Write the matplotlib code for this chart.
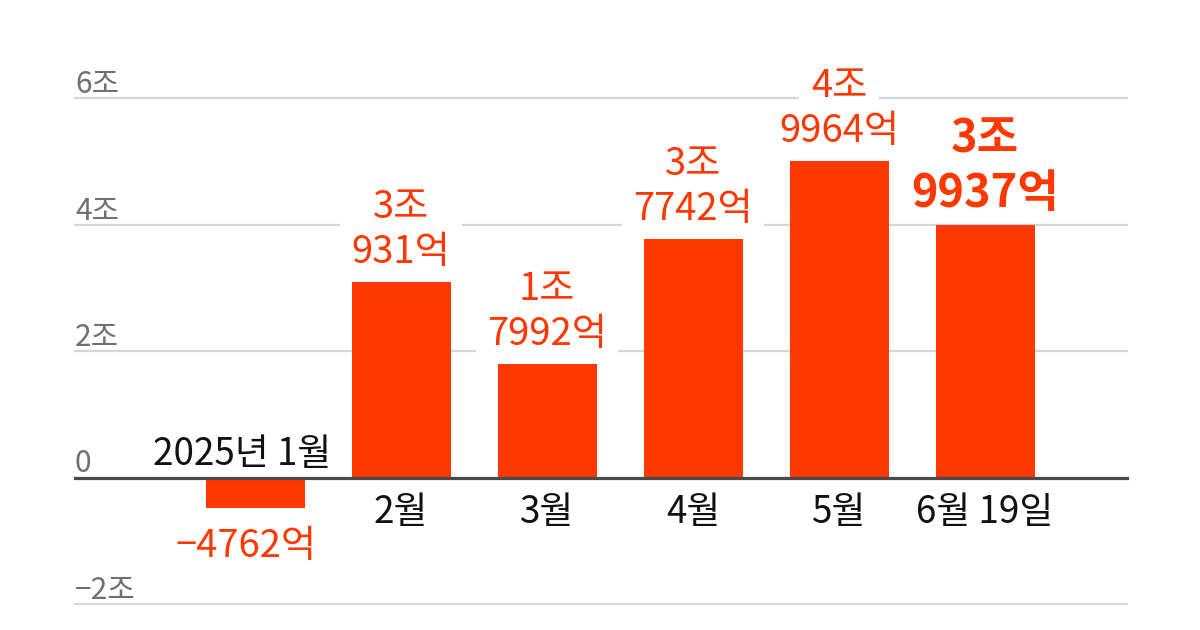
import matplotlib
matplotlib.use("Agg")
import matplotlib.pyplot as plt
from matplotlib.transforms import offset_copy

plt.rcParams['font.family'] = ['Noto Sans CJK KR', 'DejaVu Sans']

categories = ["2025년 1월", "2월", "3월", "4월", "5월", "6월 19일"]
values_eok = [-4762, 30931, 17992, 37742, 49964, 39937]   # 억 원
ytick_vals = [-2, 0, 2, 4, 6]
ytick_labels = ["−2조", "0", "2조", "4조", "6조"]

RED = "#ff3700"
GRID = "#d6d6d6"
ZERO = "#4a4a4a"
TICK = "#707070"

W, H, DPI = 1200, 630, 100
fig = plt.figure(figsize=(W / DPI, H / DPI), dpi=DPI)
ax = fig.add_axes([0, 0, 1, 1])
ax.set_axis_off()

x = list(range(len(categories)))
heights = [v / 10000 for v in values_eok]

# layout: category spacing 146px, first centre at 255px, 0 at 477.5px, 63.25px per 조
ax.set_xlim(-255 / 146, (W - 255) / 146)
ax.set_ylim(-(H - 477.5) / 63.25, 477.5 / 63.25)

xmin_f, xmax_f = 75 / W, 1127 / W
for yv in ytick_vals:
    if yv == 0:
        continue
    ax.axhline(yv, xmin=xmin_f, xmax=xmax_f, color=GRID, lw=1.6, zorder=1)
ax.axhline(0, xmin=xmin_f, xmax=xmax_f, color=ZERO, lw=2.3, zorder=5)

ax.bar(x, heights, width=99 / 146, color=RED, zorder=3)

ytrans = ax.get_yaxis_transform()
for yv, lab in zip(ytick_vals, ytick_labels):
    t = offset_copy(ytrans, fig=fig, x=0, y=5, units='dots')
    ax.text(xmin_f, yv, lab, transform=t, ha='left', va='baseline',
            fontsize=21.5, color=TICK, zorder=2)

def px(dx, dy):
    return offset_copy(ax.transData, fig=fig, x=dx, y=dy, units='dots')

box = dict(boxstyle='square,pad=0.3', fc='white', ec='none')

def label(xi, yi, s, tr, fs, fw, with_box):
    if with_box:
        # white knock-out box behind the text, below every text layer
        ax.text(xi, yi, s, transform=tr, ha='center', va='baseline',
                fontsize=fs, fontweight=fw, color=(1, 1, 1, 0),
                bbox=box, zorder=1.5)
    ax.text(xi, yi, s, transform=tr, ha='center', va='baseline',
            fontsize=fs, fontweight=fw, color=RED, zorder=2.5)

last = len(values_eok) - 1
CAT_FS = 26.5
for i, (v, h) in enumerate(zip(values_eok, heights)):
    jo, eok = divmod(abs(v), 10000)
    bold = (i == last)
    fs = 32.5 if bold else 27.5
    fw = 'bold' if bold else 'medium'
    if v >= 0:
        lines = ([f"{jo}조"] if jo else []) + [f"{eok}억"]
        gap, step = (18, 54) if bold else (19, 45)
        for k, line in enumerate(reversed(lines)):
            label(i, h, line, px(0, gap + k * step), fs, fw, not bold)
        # category label below zero line
        ax.text(i, 0, categories[i], transform=px(0, -45), ha='center',
                va='baseline', fontsize=CAT_FS, fontweight='medium',
                color='#111111', zorder=4)
    else:
        label(i, h, f"−{eok}억", px(-9, -49), fs, fw, not bold)
        ax.text(i, 0, categories[i], transform=px(-13, 13), ha='center',
                va='baseline', fontsize=CAT_FS, fontweight='medium',
                color='#111111', zorder=4)

fig.savefig("out.png", dpi=DPI, facecolor='white')
